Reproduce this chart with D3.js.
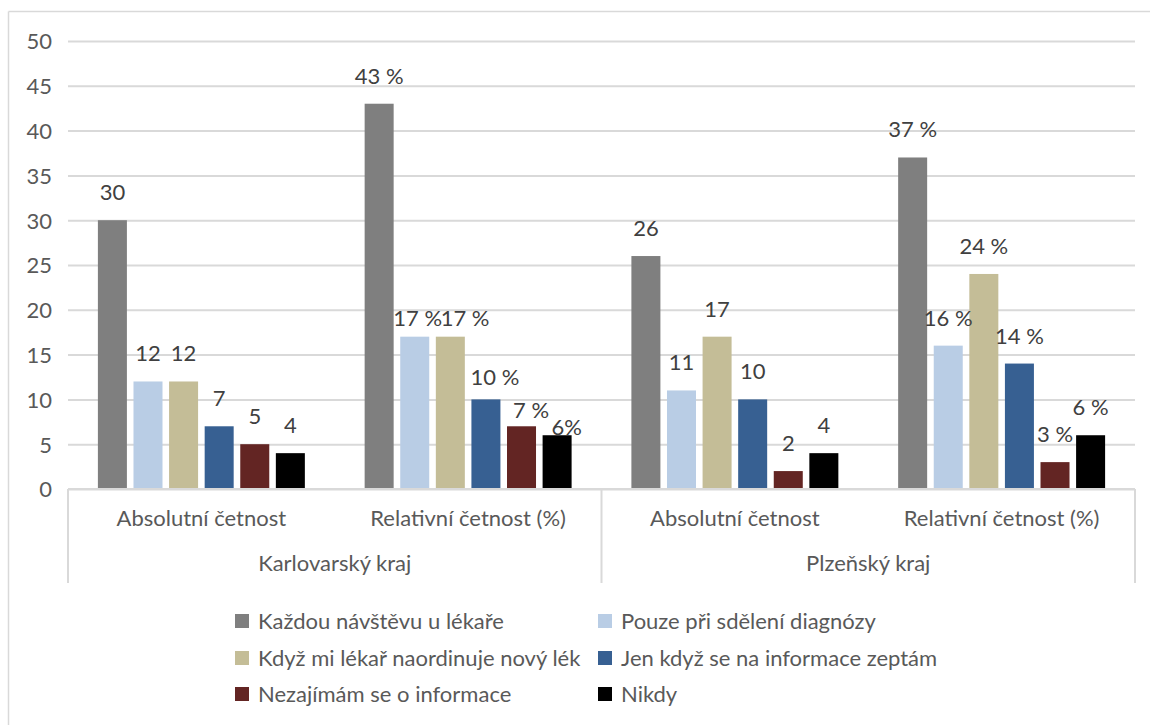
<!DOCTYPE html>
<html>
<head>
<meta charset="utf-8">
<script src="https://cdn.jsdelivr.net/npm/d3@7"></script>
<style>
  html, body { margin: 0; padding: 0; background: #fff; }
  svg { display: block; font-family: Lato, "Open Sans", sans-serif; }
</style>
</head>
<body>
<svg id="chart" width="1150" height="725"></svg>
<script>
// Categories: two regions, each with an absolute and a relative column group
const regions = ["Karlovarský kraj", "Plzeňský kraj"];
const measures = ["Absolutní četnost", "Relativní četnost (%)"];

// Answer options (series)
const seriesNames = [
  "Každou návštěvu u lékaře",
  "Pouze při sdělení diagnózy",
  "Když mi lékař naordinuje nový lék",
  "Jen když se na informace zeptám",
  "Nezajímám se o informace",
  "Nikdy"
];
const seriesColors = ["#7f7f7f", "#b9cde5", "#c4bd97", "#376092", "#632523", "#000000"];

// Values per category group, one per series
const karlovarskyAbs = [30, 12, 12, 7, 5, 4];
const karlovarskyRel = [43, 17, 17, 10, 7, 6];
const plzenskyAbs    = [26, 11, 17, 10, 2, 4];
const plzenskyRel    = [37, 16, 24, 14, 3, 6];

const yTicks = [0, 5, 10, 15, 20, 25, 30, 35, 40, 45, 50];

const groups = [
  { region: 0, measure: 0, values: karlovarskyAbs, pct: false },
  { region: 0, measure: 1, values: karlovarskyRel, pct: true },
  { region: 1, measure: 0, values: plzenskyAbs,    pct: false },
  { region: 1, measure: 1, values: plzenskyRel,    pct: true }
];

// Hand-placed data labels in the crowded Karlovarský relative group: [dx, dy]
const labelNudge = { "1-1": [3, 9], "1-2": [14.7, 9], "1-3": [9, 6], "1-4": [9.5, 12], "1-5": [9.5, 20] };
const tightPercent = new Set(["1-5"]);

const svg = d3.select("#chart");
const plotLeft = 68, plotRight = 1135, plotTop = 41, baseY = 489, axisBottom = 583;
const gridColor = "#d9d9d9", axisText = "#595959", labelText = "#404040";

// Outer chart frame
svg.append("line").attr("x1", 8.5).attr("x2", 1150).attr("y1", 11.5).attr("y2", 11.5)
  .attr("stroke", gridColor).attr("stroke-width", 1.5);
svg.append("line").attr("x1", 8.5).attr("x2", 8.5).attr("y1", 11.5).attr("y2", 725)
  .attr("stroke", gridColor).attr("stroke-width", 1.5);

const y = d3.scaleLinear().domain([0, 50]).range([baseY, plotTop]);
const x0 = d3.scaleBand().domain(d3.range(groups.length)).range([plotLeft, plotRight]).padding(0);
const x1 = d3.scaleBand().domain(d3.range(seriesNames.length))
  .range([0, x0.bandwidth()]).paddingInner(0.185).paddingOuter(0.84);

// Value axis with gridlines
const yAxis = svg.append("g").attr("transform", `translate(${plotLeft},0)`)
  .call(d3.axisLeft(y).tickValues(yTicks).tickSize(-(plotRight - plotLeft)).tickPadding(16).tickFormat(d3.format("d")));
yAxis.select(".domain").remove();
yAxis.selectAll(".tick line").attr("stroke", gridColor).attr("stroke-width", 2);
yAxis.selectAll(".tick text").attr("fill", axisText).attr("font-size", 22)
  .attr("font-family", "Lato, sans-serif").attr("dy", "0.36em");

// Bars
const gGroups = svg.append("g").selectAll("g").data(groups).join("g")
  .attr("transform", (d, i) => `translate(${x0(i)},0)`);

gGroups.selectAll("rect").data(d => d.values).join("rect")
  .attr("x", (v, j) => x1(j))
  .attr("width", x1.bandwidth())
  .attr("y", v => y(v))
  .attr("height", v => baseY - y(v))
  .attr("fill", (v, j) => seriesColors[j]);

// Data labels
gGroups.each(function (g, gi) {
  d3.select(this).selectAll("text").data(g.values).join("text")
    .attr("x", (v, j) => x1(j) + x1.bandwidth() / 2 + ((labelNudge[gi + "-" + j] || [0, 0])[0]))
    .attr("y", (v, j) => y(v) - 20 + ((labelNudge[gi + "-" + j] || [0, 0])[1]))
    .attr("text-anchor", "middle")
    .attr("font-size", 22)
    .attr("fill", labelText)
    .text((v, j) => g.pct ? (tightPercent.has(gi + "-" + j) ? v + "%" : v + " %") : String(v));
});

// Category axis: baseline, separators, two label levels
const catAxis = svg.append("g");
catAxis.append("line").attr("x1", plotLeft).attr("x2", plotRight).attr("y1", baseY).attr("y2", baseY)
  .attr("stroke", gridColor).attr("stroke-width", 2);
const separators = [x0(0), x0(2), plotRight];
catAxis.selectAll("line.sep").data(separators).join("line").attr("class", "sep")
  .attr("x1", d => d).attr("x2", d => d).attr("y1", baseY).attr("y2", axisBottom)
  .attr("stroke", gridColor).attr("stroke-width", 2);

catAxis.selectAll("text.lvl1").data(groups).join("text").attr("class", "lvl1")
  .attr("x", (d, i) => x0(i) + x0.bandwidth() / 2)
  .attr("y", 526)
  .attr("text-anchor", "middle").attr("font-size", 22).attr("fill", axisText)
  .text(d => measures[d.measure]);

catAxis.selectAll("text.lvl2").data(regions).join("text").attr("class", "lvl2")
  .attr("x", (d, i) => x0(i * 2) + x0.bandwidth())
  .attr("y", 571)
  .attr("text-anchor", "middle").attr("font-size", 22).attr("fill", axisText)
  .text(d => d);

// Legend: 2 columns x 3 rows
const legendCols = [235, 598], legendRows = [621, 658, 694];
const legend = svg.append("g").selectAll("g").data(seriesNames).join("g")
  .attr("transform", (d, i) => `translate(${legendCols[i % 2]},${legendRows[Math.floor(i / 2)]})`);
legend.append("rect").attr("x", 0).attr("y", -7).attr("width", 14).attr("height", 14)
  .attr("fill", (d, i) => seriesColors[i]);
legend.append("text").attr("x", 23).attr("y", 7.5)
  .attr("font-size", 22).attr("fill", axisText).text(d => d);
</script>
</body>
</html>
